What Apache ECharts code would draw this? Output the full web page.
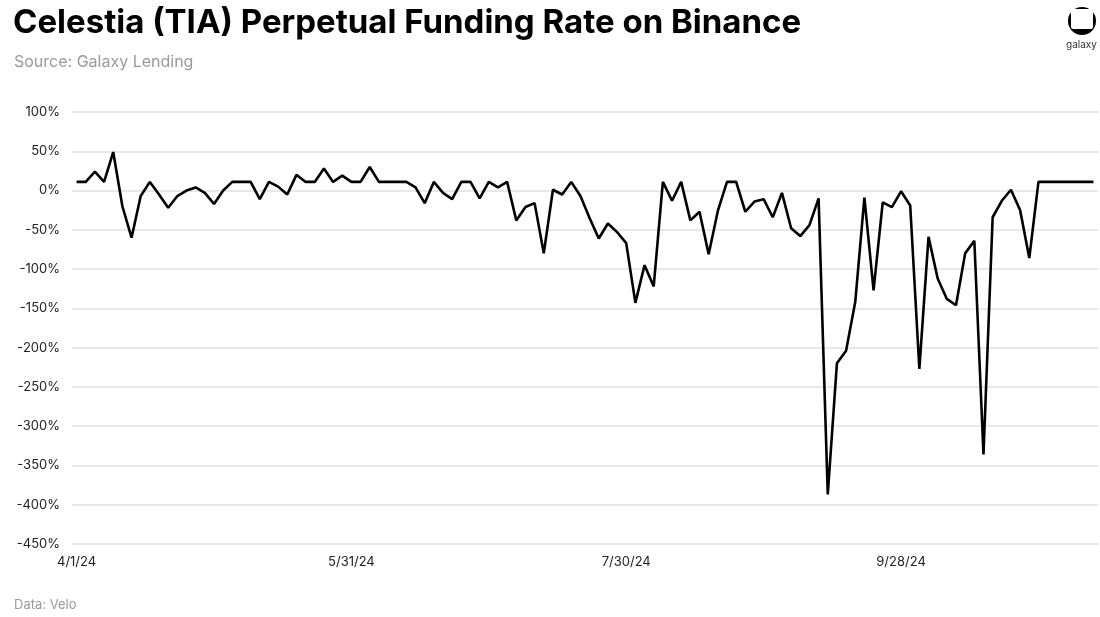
<!DOCTYPE html>
<html>
<head>
<meta charset="utf-8">
<script src="https://cdn.jsdelivr.net/npm/echarts@6/dist/echarts.min.js"></script>
<style>
html,body{margin:0;padding:0;background:#fff;}
#chart{width:1100px;height:617px;}
</style>
</head>
<body>
<div id="chart"></div>
<script>
// Data: funding rate (%) every 2 days starting 4/1/24
const startDate = [2024, 4, 1];
const fundingRate = [
  11, 11, 24, 11, 49, -20, -60, -7, 11, -5,
  -22, -7, 0, 4, -3, -17, 0, 11, 11, 11,
  -11, 11, 5, -5, 20, 11, 11, 28, 11, 19,
  11, 11, 30, 11, 11, 11, 11, 4, -16, 11,
  -3, -11, 11, 11, -10, 11, 4, 11, -38, -21,
  -16, -80, 1, -5, 11, -7, -35, -61, -42, -53,
  -67, -143, -95, -122, 11, -13, 11, -38, -27, -81,
  -26, 11, 11, -27, -14, -11, -34, -3, -48, -58,
  -44, -10, -387, -220, -204, -142, -9, -127, -15, -21,
  -1, -19, -227, -59, -112, -138, -146, -80, -64, -336,
  -34, -13, 1, -25, -86, 11, 11, 11, 11, 11,
  11, 11
];
const yTicks = [100, 50, 0, -50, -100, -150, -200, -250, -300, -350, -400, -450];

const categories = fundingRate.map((_, i) => {
  const d = new Date(startDate[0], startDate[1] - 1, startDate[2] + 2 * i);
  return (d.getMonth() + 1) + '/' + d.getDate() + '/' + String(d.getFullYear()).slice(2);
});

const chart = echarts.init(document.getElementById('chart'));
const font = 'Inter, "Noto Sans", sans-serif';
chart.setOption({
  animation: false,
  backgroundColor: '#fff',
  title: [
    { text: 'Celestia (TIA) Perpetual Funding Rate on Binance', left: 8, top: 2,
      textStyle: { fontFamily: font, fontWeight: 'bold', fontSize: 33, color: '#000' } },
    { text: 'Source: Galaxy Lending', left: 9, top: 49,
      textStyle: { fontFamily: font, fontWeight: 'normal', fontSize: 16, color: '#9a9a9a' } },
    { text: 'Data: Velo', left: 9, top: 594,
      textStyle: { fontFamily: font, fontWeight: 'normal', fontSize: 13, color: '#9a9a9a' } }
  ],
  graphic: [
    { type: 'circle', shape: { cx: 1082, cy: 21, r: 14 }, style: { fill: '#000' } },
    { type: 'rect', shape: { x: 1071, y: 9, width: 22, height: 20, r: 2 }, style: { fill: '#fff' } },
    { type: 'text', left: 1066, top: 40, style: { text: 'galaxy', fontFamily: font, fontSize: 10, fill: '#333' } }
  ],
  grid: { left: 72, right: 2, top: 112, bottom: 73, containLabel: false },
  xAxis: {
    type: 'category',
    data: categories,
    boundaryGap: true,
    axisLine: { show: false },
    axisTick: { show: false },
    axisLabel: { interval: 29, color: '#222', fontFamily: font, fontSize: 13, margin: 12 },
    splitLine: { show: false }
  },
  yAxis: {
    type: 'value',
    min: -450,
    max: 100,
    interval: 50,
    axisLine: { show: false },
    axisTick: { show: false },
    axisLabel: { formatter: v => v + '%', color: '#222', fontFamily: font, fontSize: 13, margin: 12 },
    splitLine: { lineStyle: { color: '#e0e0e0', width: 1.5 } }
  },
  series: [{
    type: 'line',
    data: fundingRate,
    symbol: 'none',
    lineStyle: { color: '#000', width: 2.6 },
    itemStyle: { color: '#000' }
  }]
});
</script>
</body>
</html>
